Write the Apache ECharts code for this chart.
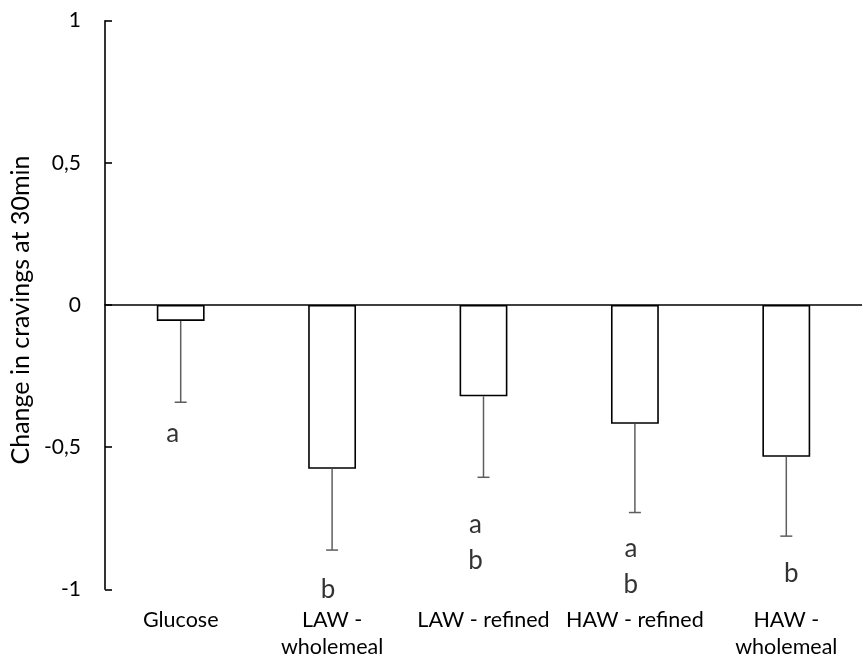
<!DOCTYPE html>
<html>
<head>
<meta charset="utf-8">
<script src="https://cdn.jsdelivr.net/npm/echarts@6/dist/echarts.min.js"></script>
<style>
  html, body { margin: 0; padding: 0; background: #fff; }
  #chart { width: 862px; height: 666px; }
</style>
</head>
<body>
<div id="chart"></div>
<script>
// Mean change in cravings 30 min after each test food, with SD whiskers
const categories = ['Glucose', 'LAW -\nwholemeal', 'LAW - refined', 'HAW - refined', 'HAW -\nwholemeal'];
const meanChange = [-0.056, -0.576, -0.321, -0.418, -0.534];
const errorSD = [0.286, 0.286, 0.285, 0.312, 0.279];
// Significance groupings and the level at which each is printed
const sigLetters = ['a', 'b', 'a\nb', 'a\nb', 'b'];
const sigLevels = [-0.452, -1.0, -0.836, -0.92, -0.944];
const yTicks = { min: -1, max: 1, interval: 0.5 };

const FONT = 'Lato, "Open Sans", sans-serif';
const letterShift = [-8, -4, -8, -4, 5];

const chart = echarts.init(document.getElementById('chart'), null, { renderer: 'canvas' });

chart.setOption({
  animation: false,
  backgroundColor: '#ffffff',
  grid: { left: 105, top: 20.7, width: 766.5, height: 568.6, containLabel: false },
  xAxis: [
    {
      type: 'category',
      data: categories,
      position: 'bottom',
      axisLine: { show: false, onZero: false },
      axisTick: { show: false },
      axisLabel: {
        interval: 0,
        margin: 17,
        color: '#000',
        fontFamily: FONT,
        fontSize: 21.5,
        lineHeight: 27
      },
      splitLine: { show: false }
    },
    {
      type: 'category',
      data: categories,
      axisLine: { show: true, onZero: true, lineStyle: { color: '#000', width: 1.6 } },
      axisTick: { show: false },
      axisLabel: { show: false },
      splitLine: { show: false }
    }
  ],
  yAxis: {
    type: 'value',
    min: yTicks.min,
    max: yTicks.max,
    interval: yTicks.interval,
    name: 'Change in cravings at 30min',
    nameLocation: 'middle',
    nameGap: 69,
    nameTextStyle: { color: '#000', fontFamily: FONT, fontSize: 25, padding: [0, 10, 0, 0] },
    axisLine: { show: true, lineStyle: { color: '#000', width: 1.6 } },
    axisTick: { show: true, inside: true, length: 7, lineStyle: { color: '#000', width: 1.6 } },
    axisLabel: {
      margin: 24,
      color: '#000',
      fontFamily: FONT,
      fontSize: 21,
      formatter: v => String(v).replace('.', ',')
    },
    splitLine: { show: false }
  },
  series: [
    {
      type: 'bar',
      xAxisIndex: 0,
      data: meanChange,
      barWidth: '31.6%',
      itemStyle: { color: '#ffffff', borderColor: '#000', borderWidth: 1.6 },
      z: 2
    },
    {
      type: 'custom',
      xAxisIndex: 0,
      data: meanChange.map((m, i) => [i, m, m - errorSD[i]]),
      renderItem: function (params, api) {
        const top = api.coord([api.value(0), api.value(1)]);
        const end = api.coord([api.value(0), api.value(2)]);
        const half = 6;
        const style = { stroke: '#5e5e5e', lineWidth: 1.5 };
        return {
          type: 'group',
          children: [
            { type: 'line', shape: { x1: top[0], y1: top[1], x2: end[0], y2: end[1] }, style },
            { type: 'line', shape: { x1: end[0] - half, y1: end[1], x2: end[0] + half, y2: end[1] }, style }
          ]
        };
      },
      z: 3
    },
    {
      type: 'scatter',
      xAxisIndex: 0,
      symbolSize: 0,
      silent: true,
      data: sigLevels.map((lv, i) => ({
        value: [i, lv],
        label: { formatter: sigLetters[i], offset: [letterShift[i], 0] }
      })),
      label: {
        show: true,
        position: 'inside',
        color: '#000',
        fontFamily: FONT,
        fontSize: 26,
        lineHeight: 36
      },
      z: 4
    }
  ]
});
</script>
</body>
</html>
